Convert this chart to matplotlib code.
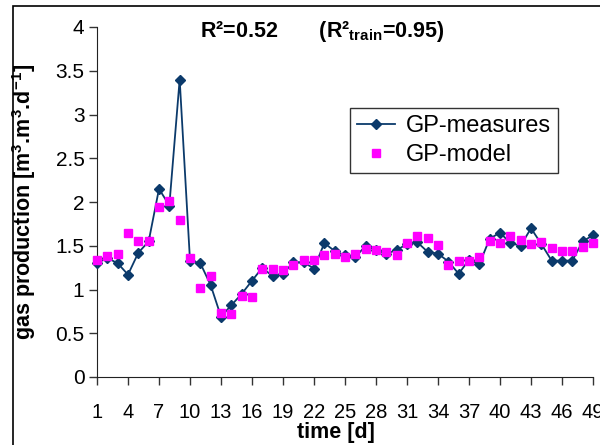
import matplotlib
matplotlib.use('Agg')
import matplotlib.pyplot as plt
from matplotlib.patches import Rectangle

plt.rcParams['font.family'] = ['Liberation Sans', 'DejaVu Sans']
plt.rcParams['mathtext.default'] = 'regular'

# time [d], categories 1..49
days = list(range(1, 50))
gp_measures = [1.30, 1.36, 1.30, 1.17, 1.42, 1.55, 2.15, 1.96, 3.40, 1.33,
               1.30, 1.05, 0.69, 0.82, 0.95, 1.10, 1.25, 1.15, 1.18, 1.31,
               1.31, 1.24, 1.53, 1.44, 1.39, 1.37, 1.50, 1.45, 1.41, 1.45,
               1.52, 1.54, 1.43, 1.41, 1.32, 1.18, 1.34, 1.29, 1.58, 1.65,
               1.53, 1.50, 1.70, 1.52, 1.33, 1.33, 1.33, 1.55, 1.62]
gp_model = [1.34, 1.38, 1.41, 1.65, 1.55, 1.56, 1.94, 2.01, 1.79, 1.36,
            1.02, 1.16, 0.73, 0.72, 0.93, 0.91, 1.24, 1.23, 1.22, 1.28,
            1.34, 1.34, 1.39, 1.41, 1.37, 1.41, 1.46, 1.45, 1.43, 1.40,
            1.53, 1.61, 1.59, 1.51, 1.28, 1.33, 1.33, 1.37, 1.56, 1.53,
            1.61, 1.57, 1.52, 1.54, 1.48, 1.44, 1.44, 1.49, 1.53]
xticks = list(range(1, 50, 3))
yticks = [0, 0.5, 1, 1.5, 2, 2.5, 3, 3.5, 4]
ytick_labels = ['0', '0.5', '1', '1.5', '2', '2.5', '3', '3.5', '4']

fig = plt.figure(figsize=(6, 4.45), dpi=100)
ax = fig.add_axes([97/600, 1-377/445, (593-97)/600, (377-27)/445])

ax.plot(days, gp_measures, color='#0b3a6b', lw=1.3, marker='D', ms=5.5,
        label='GP-measures', clip_on=False, zorder=3)
ax.plot(days, gp_model, ls='none', color='#ff00ff', marker='s', ms=6,
        label='GP-model', clip_on=False, zorder=4)

ax.set_xlim(1, 49)
ax.set_ylim(0, 4)
ax.set_xticks(xticks)
ax.set_xticklabels([str(t) for t in xticks])
ax.set_yticks(yticks)
ax.set_yticklabels(ytick_labels)
ax.tick_params(direction='out', length=6, width=1, color='#333333')
ax.tick_params(axis='x', pad=13, labelsize=14.5)
ax.tick_params(axis='y', pad=3, labelsize=15)

for s in ['top', 'right']:
    ax.spines[s].set_visible(False)
ax.spines['left'].set_color('#222222')
ax.spines['bottom'].set_color('#222222')

ax.set_xlabel('time [d]', fontsize=15.5, fontweight='bold')
ax.xaxis.set_label_coords(0.482, -0.128)
ax.set_ylabel('gas production [m$^3$.m$^3$.d$^{-1}$]', fontsize=15.5, fontweight='bold')
ax.yaxis.set_label_coords(-0.118, 0.5)

fig.text(200/600, 1-31/445, 'R²=0.52       (R²$_{train}$=0.95)', fontsize=15.5,
         fontweight='bold', ha='left', va='center')

leg = ax.legend(loc='upper left', bbox_to_anchor=(350/600, 1-108/445),
                bbox_transform=fig.transFigure, fontsize=17, frameon=True,
                fancybox=False, edgecolor='black', handlelength=1.6,
                borderpad=0.3, labelspacing=0.3, handletextpad=0.45,
                borderaxespad=0)
leg.get_frame().set_linewidth(1.0)

fig.patches.append(Rectangle((13/600, -0.2), 1.2, 1.2-6/445, transform=fig.transFigure,
                             fill=False, edgecolor='black', lw=1.2))

fig.savefig('out.png', dpi=100)
